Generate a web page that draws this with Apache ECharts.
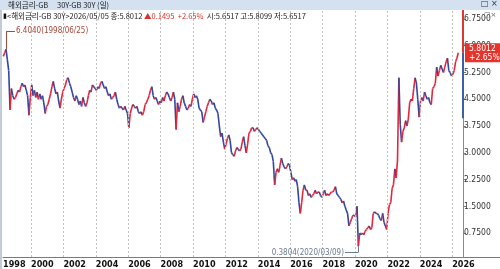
<!DOCTYPE html>
<html>
<head>
<meta charset="utf-8">
<script src="https://cdn.jsdelivr.net/npm/echarts@6/dist/echarts.min.js"></script>
<style>
html, body { margin: 0; padding: 0; background: #fff; }
#chart { width: 500px; height: 269px; }
</style>
</head>
<body>
<div id="chart"></div>
<script>
// GB 30Y 월별 종가 (%), 그림에서 읽은 값
const firstMonth = 3 // 1998년 4월부터
const y1998 = [5.70, 5.80, 5.90, 5.60, 5.30, 4.20, 4.80, 4.60, 4.50]
const y1999 = [4.55, 4.65, 4.75, 4.70, 4.85, 4.95, 4.85, 4.90, 4.75, 4.60, 4.05, 4.55]
const y2000 = [4.90, 4.60, 4.75, 4.55, 4.70, 4.50, 4.65, 4.50, 4.60, 4.40, 4.10, 4.30]
const y2001 = [4.35, 4.50, 4.65, 4.85, 5.00, 4.80, 4.65, 4.70, 4.45, 4.25, 4.50, 4.70]
const y2002 = [4.80, 4.90, 5.05, 5.10, 4.95, 4.85, 4.70, 4.55, 4.45, 4.60, 4.50, 4.35]
const y2003 = [4.45, 4.30, 4.55, 4.40, 4.30, 4.40, 4.60, 4.75, 4.70, 4.90, 4.85, 4.80]
const y2004 = [4.75, 4.85, 4.80, 4.95, 5.00, 4.90, 4.80, 4.85, 4.70, 4.60, 4.65, 4.50]
const y2005 = [4.55, 4.60, 4.70, 4.50, 4.35, 4.25, 4.30, 4.25, 4.20, 4.30, 4.20, 4.10]
const y2006 = [3.70, 4.10, 4.25, 4.35, 4.30, 4.25, 4.30, 4.15, 4.10, 4.15, 4.05, 4.15]
const y2007 = [4.35, 4.40, 4.50, 4.60, 4.75, 4.85, 4.60, 4.50, 4.55, 4.45, 4.35, 4.45]
const y2008 = [4.40, 4.55, 4.45, 4.60, 4.70, 4.65, 4.55, 4.45, 4.55, 4.70, 4.50, 3.65]
const y2009 = [4.40, 4.15, 4.30, 4.50, 4.60, 4.40, 4.30, 4.20, 4.25, 4.35, 4.30, 4.50]
const y2010 = [4.65, 4.55, 4.60, 4.50, 4.25, 4.20, 4.15, 3.85, 4.00, 4.15, 4.30, 4.40]
const y2011 = [4.50, 4.45, 4.35, 4.40, 4.25, 4.20, 4.10, 3.75, 3.45, 3.55, 3.30, 3.10]
const y2012 = [3.25, 3.40, 3.50, 3.35, 3.00, 2.95, 2.90, 3.05, 3.15, 3.10, 3.05, 3.10]
const y2013 = [3.30, 3.45, 3.20, 3.00, 3.25, 3.55, 3.60, 3.70, 3.70, 3.60, 3.65, 3.70]
const y2014 = [3.65, 3.60, 3.55, 3.50, 3.45, 3.40, 3.35, 3.20, 3.15, 3.00, 2.95, 2.75]
const y2015 = [2.10, 2.45, 2.55, 2.45, 2.65, 2.85, 2.70, 2.60, 2.55, 2.60, 2.70, 2.65]
const y2016 = [2.45, 2.25, 2.30, 2.20, 2.25, 2.05, 1.60, 1.30, 1.60, 1.95, 2.10, 1.95]
const y2017 = [1.95, 1.80, 1.85, 1.75, 1.80, 1.85, 1.95, 1.85, 1.90, 1.90, 1.80, 1.75]
const y2018 = [1.85, 1.95, 1.80, 1.85, 1.80, 1.85, 1.90, 1.90, 1.95, 2.05, 1.85, 1.80]
const y2019 = [1.75, 1.70, 1.60, 1.65, 1.50, 1.40, 1.30, 0.95, 1.05, 1.15, 1.25, 1.25]
const y2020 = [1.20, 1.50, 0.38, 0.75, 0.70, 0.75, 0.70, 0.80, 0.85, 0.90, 0.95, 0.85]
const y2021 = [0.90, 1.30, 1.35, 1.30, 1.30, 1.25, 1.15, 1.10, 1.30, 1.05, 0.95, 0.85]
const y2022 = [1.30, 1.55, 1.60, 2.00, 2.10, 2.55, 2.30, 2.80, 5.10, 3.80, 3.30, 3.60]
const y2023 = [3.70, 3.90, 3.75, 3.95, 4.40, 4.50, 4.45, 4.80, 5.10, 4.95, 4.50, 4.00]
const y2024 = [4.45, 4.55, 4.45, 4.70, 4.60, 4.50, 4.55, 4.40, 4.35, 4.80, 4.85, 4.95]
const y2025 = [5.40, 5.15, 5.30, 5.45, 5.35, 5.25, 5.40, 5.55, 5.65, 5.30, 5.25, 5.15]
const y2026 = [5.20, 5.30, 5.55, 5.65, 5.8012]
const years = [y1998, y1999, y2000, y2001, y2002, y2003, y2004, y2005, y2006, y2007,
  y2008, y2009, y2010, y2011, y2012, y2013, y2014, y2015, y2016, y2017,
  y2018, y2019, y2020, y2021, y2022, y2023, y2024, y2025, y2026]

// 축
const xMin = 1998.272
const xMax = 2026.667
const xTicks = [2000, 2002, 2004, 2006, 2008, 2010, 2012, 2014, 2016, 2018, 2020, 2022, 2024, 2026]
const yTicks = [0.75, 1.5, 2.25, 3.0, 3.75, 4.5, 5.25, 6.0, 6.75]

// 최고/최저 표시, 현재가
const maxMark = { x: 1998.48, value: 6.404, text: '6.4040(1998/06/25)' }
const minMark = { x: 2020.186, value: 0.3804, text: '0.3804(2020/03/09)' }
const lastPrice = 5.8012
const lastChange = '+2.65%'
const rangeBar = [[7.0, 5.8012], [5.8012, 3.97]]

const UP = '#e2283e'
const DOWN = '#31489e'

// 월 -> 소수 연도
const points = []
years.forEach((arr, yi) => {
  const m0 = yi === 0 ? firstMonth : 0
  arr.forEach((v, i) => points.push([1998 + yi + (m0 + i + 0.5) / 12, v]))
})
const segs = points.map((p, i) => {
  const prev = points[Math.max(0, i - 1)]
  return [p[0], p[1], prev[0], prev[1]]
})

const chart = echarts.init(document.getElementById('chart'))
const narrow = "'Liberation Sans Narrow', 'DejaVu Sans Condensed', sans-serif"
const kr = "'Noto Sans CJK KR', sans-serif"

chart.setOption({
  animation: false,
  grid: { left: 3, right: 37, top: 10, bottom: 12 },
  xAxis: {
    type: 'value',
    min: xMin,
    max: xMax,
    axisLine: { lineStyle: { color: '#7a7a7a' } },
    axisTick: { show: false },
    splitLine: { show: false },
    axisLabel: {
      customValues: [xMin].concat(xTicks),
      formatter: v => String(Math.floor(v + 1e-6)),
      align: 'left',
      verticalAlign: 'top',
      margin: 3,
      fontSize: 9,
      fontWeight: 'bold',
      color: '#111',
      fontFamily: narrow,
    },
  },
  yAxis: {
    type: 'value',
    position: 'right',
    min: 0.08,
    max: 7.0,
    axisLine: { show: true, lineStyle: { color: '#8a8a8a' } },
    axisTick: { show: true, length: 3, customValues: yTicks, lineStyle: { color: '#777' } },
    splitLine: { show: false },
    axisLabel: {
      customValues: yTicks,
      formatter: v => v.toFixed(4),
      margin: 1,
      fontSize: 8.5,
      color: '#333',
      fontFamily: narrow,
    },
  },
  graphic: [
    { type: 'rect', shape: { x: 0, y: 0, width: 500, height: 10 }, style: { fill: '#d3e1f0' }, z: 10 },
    { type: 'text', x: 8, y: 1, style: { text: '해외금리-GB', fontSize: 7.5, fontFamily: kr, fill: '#222' }, z: 11 },
    { type: 'text', x: 57, y: 1, style: { text: '30Y-GB 30Y (일)', fontSize: 7.5, fontFamily: kr, fill: '#222' }, z: 11 },
    { type: 'text', x: 481, y: 0, style: { text: '□ ×', fontSize: 8, fontFamily: 'DejaVu Sans', fill: '#333' }, z: 11 },
    { type: 'rect', shape: { x: 0, y: 10, width: 2, height: 259 }, style: { fill: '#c3cbd6' }, z: 10 },
    { type: 'line', shape: { x1: 463, y1: 257.5, x2: 500, y2: 257.5 }, style: { stroke: '#7a7a7a', lineWidth: 1 } },
    { type: 'text', x: 484, y: 12, style: { text: '□×', fontSize: 7, fontFamily: 'DejaVu Sans', fill: '#666' }, z: 11 },
    {
      type: 'text', x: 3, y: 12, z: 11,
      style: {
        text: '{b|▮}{n|<해외금리-GB 30Y>2026/05/05 종:5.8012 }{r|▲0.1495  +2.65%}{n|  시:5.6517 고:5.8099 저:5.6517}',
        fontSize: 7.5,
        fontFamily: kr,
        rich: {
          b: { fill: '#111', fontSize: 7 },
          n: { fill: '#222', fontSize: 7.5, fontFamily: kr },
          r: { fill: '#d8322c', fontSize: 7.5, fontFamily: kr },
        },
      },
    },
  ],
  series: [
    {
      type: 'custom',
      data: segs,
      encode: { x: 0, y: 1 },
      renderItem: (params, api) => {
        const a = api.coord([api.value(2), api.value(3)])
        const b = api.coord([api.value(0), api.value(1)])
        return {
          type: 'line',
          shape: { x1: a[0], y1: a[1], x2: b[0], y2: b[1] },
          style: { stroke: api.value(1) >= api.value(3) ? UP : DOWN, lineWidth: 1.6 },
        }
      },
    },
    {
      type: 'custom',
      clip: false,
      data: rangeBar,
      renderItem: (params, api) => {
        const a = api.coord([xMax, api.value(0)])
        const b = api.coord([xMax, api.value(1)])
        return {
          type: 'line',
          shape: { x1: a[0], y1: a[1], x2: b[0], y2: b[1] },
          style: { stroke: params.dataIndex === 0 ? '#e2352e' : '#3d5fa8', lineWidth: 2 },
        }
      },
    },
    {
      type: 'line',
      data: [],
      symbol: 'none',
      silent: true,
      z: 5,
      markLine: {
        silent: true,
        symbol: 'none',
        animation: false,
        label: { show: false },
        lineStyle: { color: '#c2c2c2', type: [2, 2], width: 1 },
        data: xTicks.map(v => ({ xAxis: v }))
          .concat([
            {
              yAxis: lastPrice,
              lineStyle: { color: 'rgba(0,0,0,0)', width: 0 },
              label: {
                show: true, position: 'end', distance: 2,
                formatter: lastPrice.toFixed(4) + '\n' + lastChange,
                backgroundColor: '#e4342c', color: '#fff',
                fontSize: 8.5, lineHeight: 9, padding: [1, 3, 0, 4], align: 'left',
                fontFamily: narrow,
              },
            },
            [
              { coord: [maxMark.x, 5.9], lineStyle: { color: '#a5473a', type: 'solid' } },
              { coord: [maxMark.x, maxMark.value] },
            ],
            [
              { coord: [maxMark.x, maxMark.value], lineStyle: { color: '#a5473a', type: 'solid' },
                label: { show: true, position: 'end', distance: 1, formatter: maxMark.text,
                  color: '#a5473a', fontSize: 8, fontFamily: narrow } },
              { coord: [1999.01, maxMark.value] },
            ],
            [
              { coord: [minMark.x, minMark.value], lineStyle: { color: '#6b7b90', type: 'solid' } },
              { coord: [minMark.x, 0.206] },
            ],
            [
              { coord: [minMark.x, 0.206], lineStyle: { color: '#6b7b90', type: 'solid' },
                label: { show: true, position: 'end', distance: 1, formatter: minMark.text,
                  color: '#6b7b90', fontSize: 8, fontFamily: narrow } },
              { coord: [2019.38, 0.206] },
            ],
          ]),
      },
    },
  ],
})
</script>
</body>
</html>
